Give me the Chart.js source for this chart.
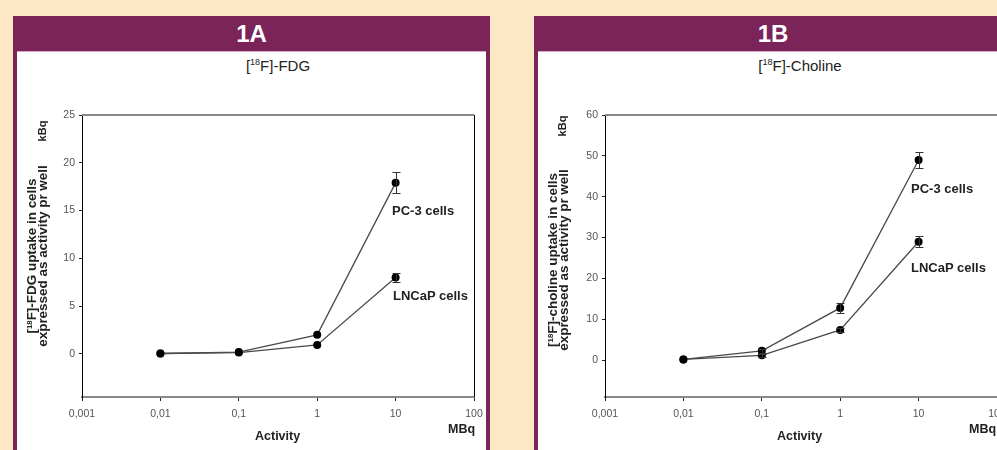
<!DOCTYPE html>
<html>
<head>
<meta charset="utf-8">
<script src="https://cdn.jsdelivr.net/npm/chart.js@4"></script>
<style>
  html, body { margin: 0; padding: 0; }
  body { width: 997px; height: 450px; overflow: hidden; position: relative; background: #fde7c5; font-family: Arial, "Liberation Sans", sans-serif; }
  .frame { position: absolute; top: 16px; height: 450px; background: #7a2459; }
  .inner { position: absolute; top: 51px; height: 420px; background: #fff; border-top: 1px solid #d9a9c4; }
  .head { position: absolute; top: 16px; height: 34px; line-height: 35px; color: #fff; font-weight: bold; font-size: 24px; text-align: center; }
  .title { position: absolute; top: 57px; font-size: 15px; color: #222; text-align: center; }
  .title sup { font-size: 9px; vertical-align: 6px; }
  .ytitle { position: absolute; width: 200px; height: 22px; transform: rotate(-90deg) scaleX(1.12); transform-origin: center center; font-weight: bold; font-size: 12px; color: #222; text-align: center; line-height: 11px; white-space: nowrap; }
  .ytitle sup { font-size: 7px; vertical-align: 4px; }
  .kbq { position: absolute; width: 30px; height: 12px; line-height: 12px; text-align: center; transform: rotate(-90deg); font-weight: bold; font-size: 11px; color: #222; }
  .unit { position: absolute; font-weight: bold; font-size: 12.5px; color: #222; white-space: nowrap; }
  .lab { position: absolute; font-weight: bold; font-size: 13px; color: #222; white-space: nowrap; }
  canvas { position: absolute; }
</style>
</head>
<body>

<div class="frame" style="left:13px; width:477px;"></div>
<div class="inner" style="left:17px; width:469px;"></div>
<div class="head" style="left:13px; width:477px;">1A</div>
<div class="title" style="left:178px; width:200px;">[<sup>18</sup>F]-FDG</div>

<div class="frame" style="left:534px; width:478px;"></div>
<div class="inner" style="left:538px; width:470px;"></div>
<div class="head" style="left:534px; width:478px;">1B</div>
<div class="title" style="left:700px; width:200px;">[<sup>18</sup>F]-Choline</div>

<canvas id="chartA" width="468" height="399" style="left:17px; top:51px;"></canvas>
<canvas id="chartB" width="470" height="399" style="left:538px; top:51px;"></canvas>

<!-- axis titles and curve labels, panel A -->
<div class="ytitle" style="left:-65px; top:245px;">[<sup>18</sup>F]-FDG uptake in cells<br>expressed as activity pr well</div>
<div class="kbq" style="left:27px; top:125px;">kBq</div>
<div class="unit" style="left:255px; top:429px;">Activity</div>
<div class="unit" style="left:448px; top:422px;">MBq</div>
<div class="lab" style="left:392px; top:203px;">PC-3 cells</div>
<div class="lab" style="left:393px; top:288px;">LNCaP cells</div>

<!-- panel B -->
<div class="ytitle" style="left:456px; top:249px;">[<sup>18</sup>F]-choline uptake in cells<br>expressed as activity pr well</div>
<div class="kbq" style="left:547px; top:120px;">kBq</div>
<div class="unit" style="left:777px; top:429px;">Activity</div>
<div class="unit" style="left:969px; top:422px;">MBq</div>
<div class="lab" style="left:911px; top:181px;">PC-3 cells</div>
<div class="lab" style="left:911px; top:260px;">LNCaP cells</div>

<script>
// activity added (MBq)
const activity = [0.01, 0.1, 1, 10];
const xTicks = [0.001, 0.01, 0.1, 1, 10, 100];
const xTickLabels = ["0,001", "0,01", "0,1", "1", "10", "100"];

// 1A  FDG uptake (kBq)
const fdgPC3 = [0.05, 0.2, 2.0, 17.9];
const fdgPC3Err = [0.05, 0.05, 0.15, 1.1];
const fdgLNCaP = [0.05, 0.15, 0.95, 8.0];
const fdgLNCaPErr = [0.05, 0.05, 0.1, 0.5];
const fdgYTicks = [0, 5, 10, 15, 20, 25];

// 1B  Choline uptake (kBq)
const cholPC3 = [0.2, 2.3, 12.8, 49.0];
const cholPC3Err = [0.2, 0.5, 1.2, 2.0];
const cholLNCaP = [0.2, 1.2, 7.4, 29.0];
const cholLNCaPErr = [0.2, 0.4, 0.5, 1.4];
const cholYTicks = [0, 10, 20, 30, 40, 50, 60];

// error bars + box lines (top grey, right black)
const errorBarPlugin = {
    id: 'errorBars',
    afterDatasetsDraw(chart) {
        const ctx = chart.ctx;
        const xs = chart.scales.x, ys = chart.scales.y;
        const area = chart.chartArea;
        ctx.save();
        ctx.strokeStyle = '#888';
        ctx.lineWidth = 2;
        ctx.beginPath();
        ctx.moveTo(area.left, area.top);
        ctx.lineTo(area.right, area.top);
        ctx.stroke();
        ctx.strokeStyle = '#000';
        ctx.lineWidth = 1;
        ctx.beginPath();
        ctx.moveTo(area.right + 0.5, area.top);
        ctx.lineTo(area.right + 0.5, area.bottom);
        ctx.stroke();

        ctx.strokeStyle = '#333';
        ctx.lineWidth = 1;
        chart.data.datasets.forEach(ds => {
            if (!ds.err) return;
            ds.data.forEach((p, i) => {
                let e = ds.err[i];
                if (e < 0.3) return;
                let x = Math.round(xs.getPixelForValue(p.x)) + 0.5;
                let yTop = Math.round(ys.getPixelForValue(p.y + e)) + 0.5;
                let yBot = Math.round(ys.getPixelForValue(p.y - e)) + 0.5;
                ctx.beginPath();
                ctx.moveTo(x, yTop); ctx.lineTo(x, yBot);
                ctx.moveTo(x - 4, yTop); ctx.lineTo(x + 4, yTop);
                ctx.moveTo(x - 4, yBot); ctx.lineTo(x + 4, yBot);
                ctx.stroke();
            });
        });
        ctx.restore();
    }
};

function series(values, errs) {
    return {
        data: activity.map((a, i) => ({ x: a, y: values[i] })),
        err: errs,
        showLine: true,
        borderColor: '#4a4a4a',
        borderWidth: 1.3,
        pointRadius: 4,
        pointBackgroundColor: '#000',
        pointBorderColor: '#000',
        pointBorderWidth: 0,
        tension: 0
    };
}

function makeChart(id, pc3, pc3Err, lncap, lncapErr, yMin, yMax, yTicks, padLeft) {
    const ctx = document.getElementById(id).getContext('2d');
    return new Chart(ctx, {
        type: 'scatter',
        data: { datasets: [series(pc3, pc3Err), series(lncap, lncapErr)] },
        options: {
            responsive: false,
            animation: false,
            layout: { padding: { left: padLeft, top: 64, right: 11, bottom: 23 } },
            plugins: { legend: { display: false }, tooltip: { enabled: false } },
            scales: {
                x: {
                    type: 'logarithmic',
                    min: 0.001,
                    max: 100,
                    afterBuildTicks: s => { s.ticks = xTicks.map(v => ({ value: v })); },
                    afterFit: s => { s.height = 30; s.paddingLeft = 0; s.paddingRight = 0; },
                    ticks: {
                        autoSkip: false,
                        maxRotation: 0,
                        padding: 7,
                        color: '#555',
                        font: { family: 'Arial, "Liberation Sans", sans-serif', size: 10.5 },
                        callback: (val, i) => xTickLabels[i]
                    },
                    grid: { display: true, drawOnChartArea: false, drawTicks: true, tickLength: 4, color: '#222' },
                    border: { display: true, color: '#888', width: 2 }
                },
                y: {
                    min: yMin,
                    max: yMax,
                    afterBuildTicks: s => { s.ticks = yTicks.map(v => ({ value: v })); },
                    afterFit: s => { s.width = 40; s.paddingTop = 0; s.paddingBottom = 0; },
                    ticks: {
                        padding: 4,
                        color: '#555',
                        font: { family: 'Arial, "Liberation Sans", sans-serif', size: 10.5 }
                    },
                    grid: { display: true, drawOnChartArea: false, drawTicks: true, tickLength: 3, color: '#222' },
                    border: { display: true, color: '#000', width: 1 }
                }
            }
        },
        plugins: [errorBarPlugin]
    });
}

window.onload = function () {
    makeChart('chartA', fdgPC3, fdgPC3Err, fdgLNCaP, fdgLNCaPErr, -4.5, 25, fdgYTicks, 25);
    makeChart('chartB', cholPC3, cholPC3Err, cholLNCaP, cholLNCaPErr, -9, 60, cholYTicks, 27);
};
</script>
</body>
</html>
